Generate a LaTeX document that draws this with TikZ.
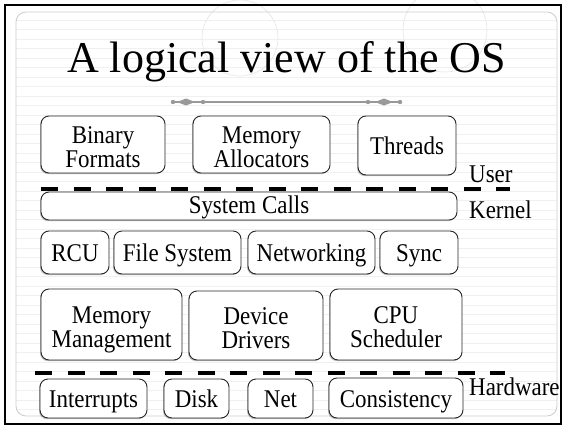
\documentclass[tikz,border=0pt]{standalone}
\usepackage{fontspec}
\setmainfont{Liberation Serif}
\newfontfamily\boxfont[FakeStretch=0.9]{Liberation Serif}
\usetikzlibrary{shadows}

% two centred lines; the lower one adds no depth
\newcommand{\twoline}[2]{\rule{0pt}{21pt}#1\\\smash{#2}}

\begin{document}
\begin{tikzpicture}[x=1pt, y=-1pt,
  box/.style={draw=black!85, line width=0.9pt, rounded corners=8pt, fill=white, align=center,
    inner sep=0pt, font=\boxfont\fontsize{25.5}{24}\selectfont,
    drop shadow={shadow xshift=-1pt, shadow yshift=-1.2pt, fill=black!60, opacity=0.4}},
  one/.style={text height=18pt, text depth=0pt},
  sep/.style={line width=4.5pt, dash pattern=on 17pt off 15.5pt},
  layer/.style={anchor=base west, inner sep=0pt, font=\boxfont\fontsize{25.5}{24}\selectfont},
  orn/.style={fill=black!40, draw=none}]
% page and paper
\useasboundingbox (0,0) rectangle (563,426);
\fill[white] (0,0) rectangle (563,426);
\foreach \y in {20,29.5,...,412}
  \draw[black!6, line width=0.5pt] (16,\y) -- (557,\y);
\draw[black!10, line width=0.6pt] (240,38) circle (38);
\draw[black!10, line width=0.6pt] (445,30) circle (42);
\draw[black!20, line width=0.8pt, rounded corners=10pt] (16,12) rectangle (557,416);
\draw[line width=2pt] (5,5) rectangle (561,424);

% title and ornament
\node[anchor=base, inner sep=0pt, font=\fontsize{44}{48}\selectfont] (title) at (286.5,72) {A logical view of the OS};
\draw[black!40, line width=1.3pt] (173,102) -- (400,102);
\fill[orn] (177,102) -- (186,98.5) -- (195,102) -- (186,105.5) -- cycle;
\fill[orn] (375,102) -- (384,98.5) -- (393,102) -- (384,105.5) -- cycle;
\foreach \x in {173,203,368,400}
  \fill[orn] (\x,102) circle (2.2);

% user space
\node[box, minimum width=124pt, minimum height=57pt] (bin) at (103,144.5) {\twoline{Binary}{Formats}};
\node[box, minimum width=137pt, minimum height=57pt] (alloc) at (261.5,144.5) {\twoline{Memory}{Allocators}};
\node[box, one, minimum width=98pt, minimum height=59pt] (thr) at (407,145.5) {Threads};

% kernel
\node[box, one, text height=14pt, minimum width=416pt, minimum height=28pt] (sys) at (249,206) {System Calls};
\node[box, one, minimum width=68pt, minimum height=43pt] (rcu) at (75,252.5) {RCU};
\node[box, one, minimum width=127pt, minimum height=43pt] (fs) at (177.5,252.5) {File System};
\node[box, one, minimum width=127pt, minimum height=43pt] (net) at (311.5,252.5) {Networking};
\node[box, one, minimum width=78pt, minimum height=43pt] (sync) at (419,252.5) {Sync};
\node[box, minimum width=141pt, minimum height=71pt] (mm) at (111.5,324.5) {\twoline{Memory}{Management}};
\node[box, minimum width=134pt, minimum height=69pt] (dd) at (256,325.5) {\twoline{Device}{Drivers}};
\node[box, minimum width=132pt, minimum height=71pt] (cpu) at (396,324.5) {\twoline{CPU}{Scheduler}};

% hardware
\node[box, one, minimum width=107pt, minimum height=39pt] (intr) at (93.5,398.5) {Interrupts};
\node[box, one, minimum width=65pt, minimum height=39pt] (disk) at (196.5,398.5) {Disk};
\node[box, one, minimum width=65pt, minimum height=39pt] (nic) at (280.5,398.5) {Net};
\node[box, one, minimum width=134pt, minimum height=40pt] (cons) at (396,398) {Consistency};

% boundaries
\coordinate (uk1) at (41,189);
\coordinate (uk2) at (510,189);
\coordinate (kh1) at (35,373);
\coordinate (kh2) at (505,373);
\draw[sep] (uk1) -- (uk2);
\draw[sep] (kh1) -- (kh2);
\node[layer] (user) at (469,182) {User};
\node[layer] (kern) at (469,218) {Kernel};
\node[layer] (hw) at (469,395) {Hardware};
\end{tikzpicture}
\end{document}
